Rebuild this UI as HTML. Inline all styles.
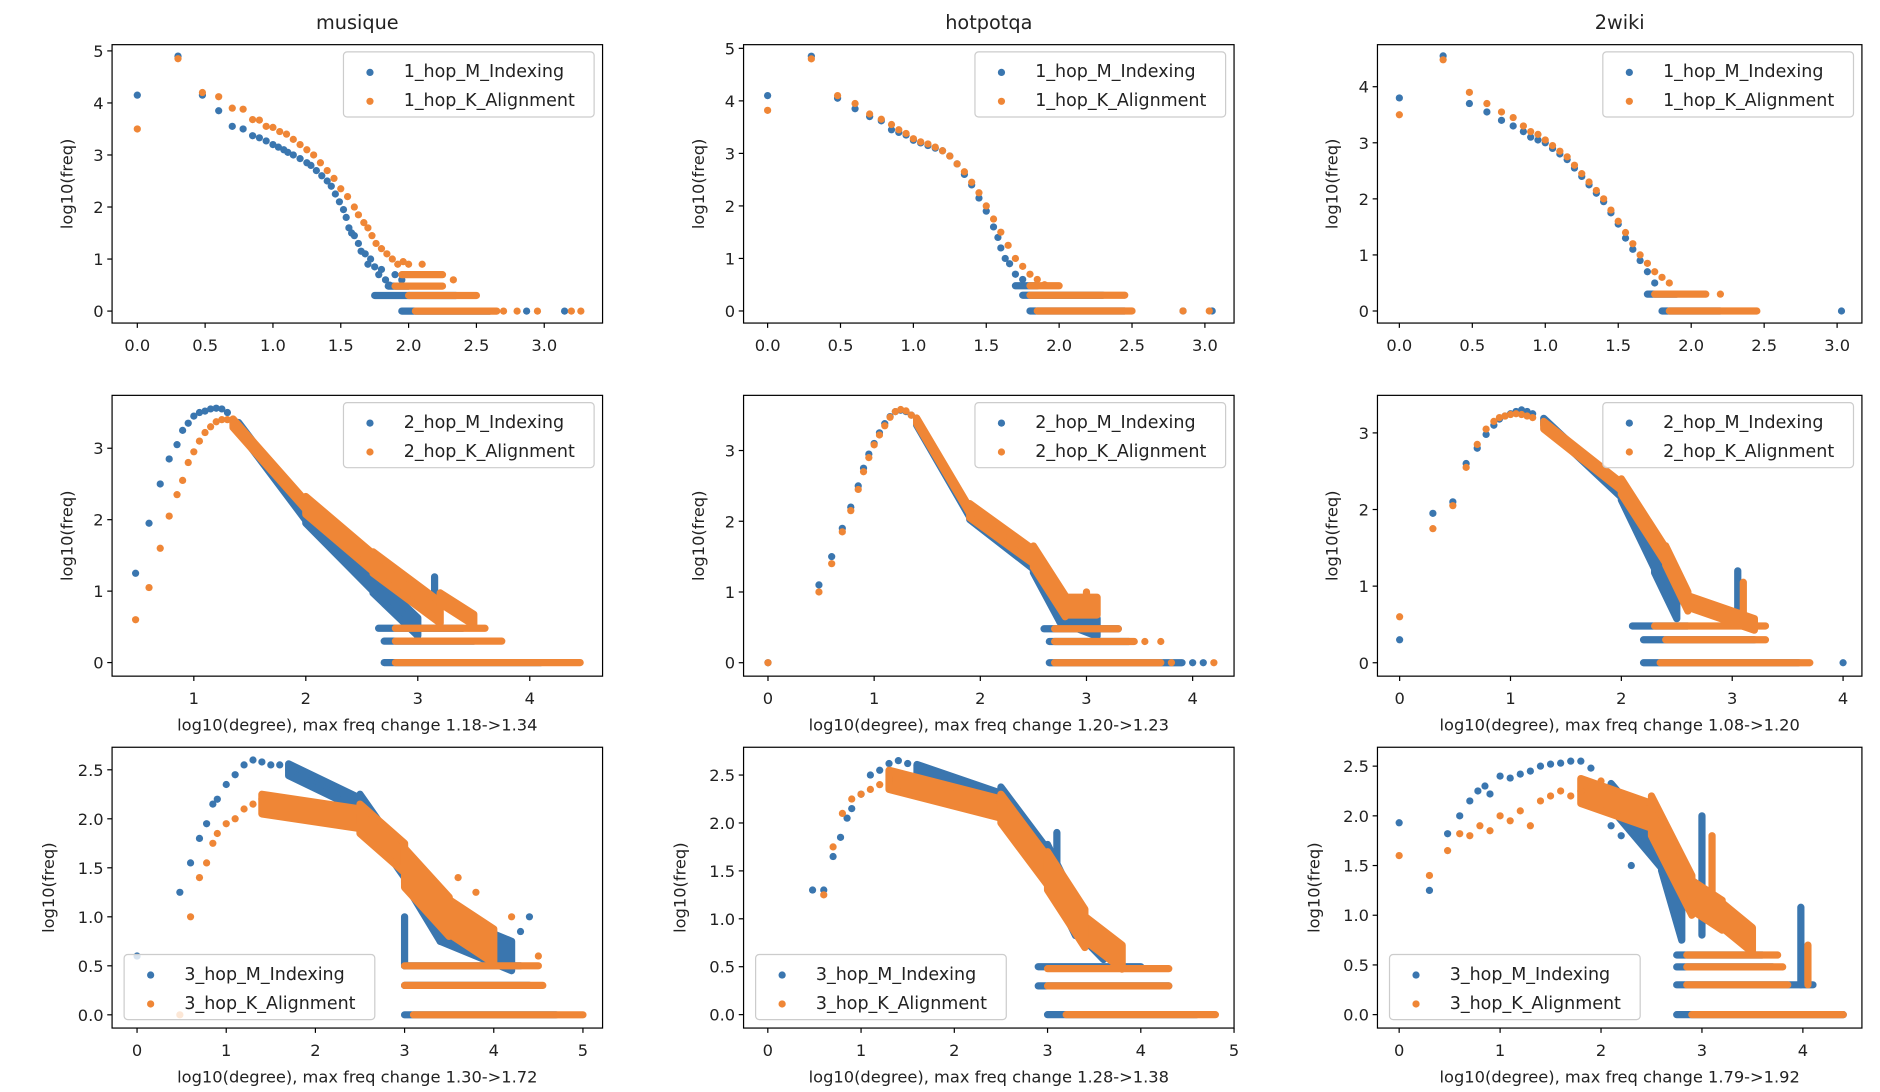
<!DOCTYPE html>
<html><head><meta charset="utf-8"><style>
html,body{margin:0;padding:0;background:#fff;}
svg{display:block;font-family:"DejaVu Sans","Liberation Sans",sans-serif;}
</style></head><body>
<svg id="fig" width="1880" height="1092" viewBox="0 0 1560 906" xmlns="http://www.w3.org/2000/svg"></svg>
<script>
// ---------- data ----------
const datasets = ["musique","hotpotqa","2wiki"];
const hops = ["1_hop","2_hop","3_hop"];
const xlabels = [null,
  ["log10(degree), max freq change 1.18->1.34","log10(degree), max freq change 1.20->1.23","log10(degree), max freq change 1.08->1.20"],
  ["log10(degree), max freq change 1.30->1.72","log10(degree), max freq change 1.28->1.38","log10(degree), max freq change 1.79->1.92"]];
const xticksRow1 = [0,0.5,1,1.5,2,2.5,3];
const xtickLabelsRow1 = ["0.0","0.5","1.0","1.5","2.0","2.5","3.0"];
const xticksRow2a = [1,2,3,4];
const xticksRow2 = [0,1,2,3,4];
const xticksRow3a = [0,1,2,3,4,5];
const xticksRow3c = [0,1,2,3,4];
const yticks5 = [0,1,2,3,4,5];
const yticks4 = [0,1,2,3,4];
const yticks3 = [0,1,2,3];
const yticksHalf = [0,0.5,1,1.5,2,2.5];
const ytickLabelsHalf = ["0.0","0.5","1.0","1.5","2.0","2.5"];

// Each series: points [x,y]; runs [x0,y0,x1,y1,ySpread] (dense clouds of dots)
const p11b = [[0,4.15],[0.3,4.9],[0.48,4.15],[0.6,3.85],[0.7,3.55],[0.78,3.5],[0.85,3.37],[0.9,3.33],[0.95,3.27],[1.0,3.2],[1.04,3.15],[1.08,3.1],[1.11,3.05],[1.15,3.0],[1.2,2.93],[1.25,2.85],[1.28,2.8],[1.32,2.7],[1.36,2.6],[1.4,2.5],[1.43,2.4],[1.46,2.25],[1.49,2.1],[1.52,1.95],[1.54,1.8],[1.56,1.6],[1.58,1.5],[1.6,1.45],[1.63,1.3],[1.65,1.15],[1.68,1.1],[1.7,0.9],[1.72,1.0],[1.75,0.85],[1.78,0.7],[1.8,0.8],[1.83,0.6],[1.86,0.5],[1.9,0.7],[1.95,0.6],[2.87,0],[3.15,0]];
const r11b = [[1.85,0.48,2.0,0.48,0],[1.75,0.3,2.35,0.3,0],[1.95,0,2.6,0,0]];
const p11o = [[0,3.5],[0.3,4.85],[0.48,4.2],[0.6,4.12],[0.7,3.9],[0.78,3.88],[0.85,3.68],[0.9,3.67],[0.95,3.55],[1.0,3.53],[1.05,3.45],[1.1,3.4],[1.15,3.3],[1.2,3.2],[1.25,3.1],[1.3,3.0],[1.35,2.85],[1.4,2.7],[1.45,2.55],[1.5,2.35],[1.55,2.2],[1.6,2.0],[1.63,1.85],[1.67,1.7],[1.7,1.6],[1.73,1.45],[1.76,1.3],[1.8,1.2],[1.84,1.1],[1.88,1.0],[1.92,0.9],[1.96,0.95],[2.0,0.9],[2.1,0.9],[2.33,0.6],[2.7,0],[2.8,0],[2.95,0],[3.2,0],[3.27,0]];
const r11o = [[1.95,0.7,2.25,0.7,0],[1.9,0.48,2.25,0.48,0],[2.0,0.3,2.5,0.3,0],[2.05,0,2.65,0,0]];

const p12b = [[0,4.1],[0.3,4.85],[0.48,4.05],[0.6,3.85],[0.7,3.7],[0.78,3.62],[0.85,3.45],[0.9,3.4],[0.95,3.35],[1.0,3.25],[1.05,3.2],[1.1,3.15],[1.15,3.1],[1.2,3.05],[1.25,2.95],[1.3,2.8],[1.35,2.6],[1.4,2.4],[1.45,2.15],[1.5,1.9],[1.55,1.6],[1.58,1.4],[1.6,1.2],[1.63,1.0],[1.66,0.9],[1.7,0.7],[1.75,0.6],[2.85,0],[3.05,0]];
const r12b = [[1.7,0.48,1.85,0.48,0],[1.75,0.3,2.3,0.3,0],[1.8,0,2.45,0,0]];
const p12o = [[0,3.82],[0.3,4.8],[0.48,4.1],[0.6,3.95],[0.7,3.75],[0.78,3.65],[0.85,3.55],[0.9,3.45],[0.95,3.38],[1.0,3.28],[1.05,3.22],[1.1,3.18],[1.15,3.12],[1.2,3.05],[1.25,2.95],[1.3,2.8],[1.35,2.65],[1.4,2.45],[1.45,2.25],[1.5,2.0],[1.55,1.75],[1.6,1.5],[1.65,1.25],[1.7,1.0],[1.75,0.85],[1.8,0.7],[1.85,0.6],[1.9,0.5],[2.85,0],[3.03,0]];
const r12o = [[1.8,0.48,2.0,0.48,0],[1.8,0.3,2.45,0.3,0],[1.85,0,2.5,0,0]];

const p13b = [[0,3.8],[0.3,4.55],[0.48,3.7],[0.6,3.55],[0.7,3.4],[0.78,3.3],[0.85,3.2],[0.9,3.1],[0.95,3.05],[1.0,3.0],[1.05,2.9],[1.1,2.8],[1.15,2.7],[1.2,2.55],[1.25,2.4],[1.3,2.25],[1.35,2.1],[1.4,1.95],[1.45,1.75],[1.5,1.55],[1.55,1.3],[1.6,1.1],[1.65,0.9],[1.7,0.7],[1.75,0.5],[3.03,0]];
const r13b = [[1.7,0.3,1.9,0.3,0],[1.8,0,2.2,0,0]];
const p13o = [[0,3.5],[0.3,4.48],[0.48,3.9],[0.6,3.7],[0.7,3.55],[0.78,3.45],[0.85,3.3],[0.9,3.2],[0.95,3.15],[1.0,3.05],[1.05,2.95],[1.1,2.85],[1.15,2.75],[1.2,2.6],[1.25,2.45],[1.3,2.3],[1.35,2.15],[1.4,2.0],[1.45,1.8],[1.5,1.6],[1.55,1.4],[1.6,1.2],[1.65,1.0],[1.7,0.85],[1.75,0.7],[1.8,0.6],[1.85,0.5],[2.2,0.3]];
const r13o = [[1.75,0.3,2.1,0.3,0],[1.85,0,2.45,0,0]];

const p21b = [[0.48,1.25],[0.6,1.95],[0.7,2.5],[0.78,2.85],[0.85,3.05],[0.9,3.25],[0.95,3.35],[1.0,3.45],[1.05,3.5],[1.1,3.52],[1.15,3.55],[1.2,3.56],[1.25,3.55],[1.3,3.5],[1.35,3.4],[1.4,3.3]];
const r21b = [[1.4,3.3,2.0,2.05,0.12],[2.0,2.05,2.6,1.1,0.2],[2.6,1.1,3.0,0.5,0.25],[2.65,0.48,3.4,0.48,0],[2.7,0.3,3.5,0.3,0],[2.7,0,4.1,0,0],[3.15,0.9,3.15,1.2,0]];
const p21o = [[0.48,0.6],[0.6,1.05],[0.7,1.6],[0.78,2.05],[0.85,2.35],[0.9,2.55],[0.95,2.8],[1.0,2.95],[1.05,3.1],[1.1,3.22],[1.15,3.3],[1.2,3.37],[1.25,3.4],[1.3,3.4],[1.35,3.35]];
const r21o = [[1.35,3.35,2.0,2.2,0.12],[2.0,2.2,2.6,1.4,0.25],[2.6,1.4,3.2,0.7,0.3],[3.2,0.9,3.5,0.6,0.15],[2.8,0.48,3.6,0.48,0],[2.8,0.3,3.75,0.3,0],[2.8,0,4.45,0,0]];

const p22b = [[0,0],[0.48,1.1],[0.6,1.5],[0.7,1.9],[0.78,2.2],[0.85,2.5],[0.9,2.75],[0.95,2.95],[1.0,3.1],[1.05,3.25],[1.1,3.38],[1.15,3.48],[1.2,3.55],[1.25,3.57],[1.3,3.55],[1.35,3.5],[1.4,3.4],[4.0,0],[4.1,0]];
const r22b = [[1.4,3.4,1.9,2.1,0.08],[1.9,2.1,2.5,1.4,0.15],[2.5,1.4,2.75,0.7,0.25],[2.75,0.7,3.1,0.5,0.25],[2.6,0.48,3.3,0.48,0],[2.65,0.3,3.4,0.3,0],[2.65,0,3.9,0,0]];
const p22o = [[0,0],[0.48,1.0],[0.6,1.4],[0.7,1.85],[0.78,2.15],[0.85,2.45],[0.9,2.7],[0.95,2.9],[1.0,3.08],[1.05,3.22],[1.1,3.35],[1.15,3.47],[1.2,3.55],[1.25,3.58],[1.3,3.56],[1.35,3.5],[1.4,3.42],[3.55,0.3],[3.7,0.3],[3.8,0],[4.2,0]];
const r22o = [[1.4,3.42,1.9,2.15,0.08],[1.9,2.15,2.5,1.5,0.2],[2.5,1.5,2.8,0.8,0.3],[2.8,0.8,3.1,0.8,0.25],[2.7,0.48,3.3,0.48,0],[2.7,0.3,3.45,0.3,0],[2.7,0,3.7,0,0],[3.0,0.8,3.0,1.0,0]];

const p23b = [[0,0.3],[0.3,1.95],[0.48,2.1],[0.6,2.6],[0.7,2.8],[0.78,2.98],[0.85,3.1],[0.9,3.18],[0.95,3.22],[1.0,3.25],[1.05,3.28],[1.1,3.3],[1.15,3.28],[1.2,3.25],[1.3,3.15],[4.0,0]];
const r23b = [[1.3,3.15,2.0,2.2,0.08],[2.0,2.2,2.3,1.3,0.15],[2.3,1.3,2.5,0.7,0.25],[2.1,0.48,2.6,0.48,0],[2.2,0.3,3.2,0.3,0],[2.2,0,3.6,0,0],[3.05,0.5,3.05,1.2,0]];
const p23o = [[0,0.6],[0.3,1.75],[0.48,2.05],[0.6,2.55],[0.7,2.85],[0.78,3.05],[0.85,3.15],[0.9,3.2],[0.95,3.22],[1.0,3.24],[1.05,3.25],[1.1,3.24],[1.15,3.22],[1.2,3.2],[1.3,3.1]];
const r23o = [[1.3,3.1,2.0,2.3,0.1],[2.0,2.3,2.4,1.4,0.2],[2.4,1.4,2.6,0.8,0.25],[2.6,0.8,3.2,0.5,0.15],[2.3,0.48,3.3,0.48,0],[2.4,0.3,3.3,0.3,0],[2.35,0,3.7,0,0],[3.1,0.5,3.1,1.05,0]];

const p31b = [[0,0.6],[0.48,1.25],[0.6,1.55],[0.7,1.8],[0.78,1.95],[0.85,2.15],[0.9,2.2],[1.0,2.35],[1.1,2.45],[1.2,2.55],[1.3,2.6],[1.4,2.58],[1.5,2.55],[1.6,2.55],[1.7,2.5],[4.3,0.85],[4.4,1.0]];
const r31b = [[1.7,2.5,2.5,2.15,0.12],[2.5,2.15,3.0,1.5,0.2],[3.0,1.5,3.4,0.9,0.3],[3.4,0.9,4.2,0.6,0.3],[3.0,0.5,3.0,1.0,0],[3.0,0.5,4.3,0.5,0],[3.0,0.3,4.4,0.3,0],[3.0,0,4.7,0,0]];
const p31o = [[0.48,0.0],[0.6,1.0],[0.7,1.4],[0.78,1.55],[0.85,1.75],[0.9,1.85],[1.0,1.95],[1.1,2.0],[1.2,2.1],[1.3,2.15],[1.4,2.2],[3.6,1.4],[3.8,1.25],[4.2,1.0],[4.5,0.6]];
const r31o = [[1.4,2.15,2.5,2.0,0.2],[2.5,2.0,3.0,1.6,0.3],[3.0,1.5,3.5,1.0,0.4],[3.5,1.0,4.0,0.7,0.35],[3.0,0.5,4.5,0.5,0],[3.0,0.3,4.55,0.3,0],[3.1,0,5.0,0,0]];

const p32b = [[0.48,1.3],[0.6,1.3],[0.7,1.65],[0.78,1.85],[0.85,2.05],[0.9,2.15],[1.0,2.3],[1.1,2.5],[1.2,2.55],[1.3,2.62],[1.4,2.65],[1.5,2.62],[1.6,2.6]];
const r32b = [[1.6,2.55,2.5,2.25,0.12],[2.5,2.25,3.0,1.6,0.25],[3.0,1.6,3.3,1.0,0.35],[3.3,1.0,3.6,0.7,0.25],[2.9,0.5,4.0,0.5,0],[2.9,0.3,4.3,0.3,0],[3.0,0,4.6,0,0],[3.1,1.5,3.1,1.9,0]];
const p32o = [[0.6,1.25],[0.7,1.75],[0.8,2.1],[0.9,2.25],[1.0,2.3],[1.1,2.35],[1.2,2.4],[1.3,2.45]];
const r32o = [[1.3,2.45,2.5,2.15,0.2],[2.5,2.15,3.0,1.5,0.3],[3.0,1.5,3.4,0.9,0.4],[3.4,0.9,3.8,0.6,0.25],[3.0,0.48,4.3,0.48,0],[3.0,0.3,4.3,0.3,0],[3.2,0,4.8,0,0]];

const p33b = [[0,1.93],[0.3,1.25],[0.48,1.82],[0.6,2.0],[0.7,2.15],[0.78,2.25],[0.85,2.3],[0.9,2.22],[1.0,2.4],[1.1,2.38],[1.2,2.42],[1.3,2.45],[1.4,2.5],[1.5,2.52],[1.6,2.53],[1.7,2.55],[1.8,2.55],[1.9,2.48],[2.0,2.1],[2.1,1.9],[2.2,1.8],[2.3,1.5]];
const r33b = [[2.1,2.2,2.6,1.6,0.25],[2.6,1.6,2.8,0.9,0.3],[3.0,0.8,3.0,2.0,0],[3.98,0.3,3.98,1.08,0],[2.75,0.6,3.6,0.6,0],[2.75,0.48,3.7,0.48,0],[2.75,0.3,4.1,0.3,0],[2.75,0,4.4,0,0]];
const p33o = [[0,1.6],[0.3,1.4],[0.48,1.65],[0.6,1.82],[0.7,1.8],[0.8,1.9],[0.9,1.85],[1.0,2.0],[1.1,1.95],[1.2,2.05],[1.3,1.9],[1.4,2.15],[1.5,2.2],[1.6,2.25],[1.7,2.2],[1.8,2.25],[1.9,2.3],[2.0,2.35]];
const r33o = [[1.8,2.25,2.5,2.0,0.25],[2.5,2.0,2.9,1.2,0.4],[2.9,1.2,3.2,1.0,0.3],[3.1,1.0,3.1,1.8,0],[3.2,1.0,3.5,0.75,0.25],[2.85,0.6,3.75,0.6,0],[2.85,0.48,3.8,0.48,0],[2.85,0.3,3.85,0.3,0],[2.9,0,4.4,0,0],[4.05,0.3,4.05,0.7,0]];

// ---------- layout ----------
const BLUE="#3a76af", ORANGE="#ef8636";
const colX=[[93,500],[617,1024],[1143,1545]];
const rowY=[[37,268],[328,561],[620,853]];
const panels=[
 [{xd:[-0.186,3.43],yd:[-0.23,5.12],xt:xticksRow1,xl:xtickLabelsRow1,yt:yticks5,yl:null,b:p11b,rb:r11b,o:p11o,ro:r11o},
  {xd:[-0.165,3.2],yd:[-0.23,5.07],xt:xticksRow1,xl:xtickLabelsRow1,yt:yticks5,yl:null,b:p12b,rb:r12b,o:p12o,ro:r12o},
  {xd:[-0.15,3.17],yd:[-0.215,4.75],xt:xticksRow1,xl:xtickLabelsRow1,yt:yticks4,yl:null,b:p13b,rb:r13b,o:p13o,ro:r13o}],
 [{xd:[0.27,4.65],yd:[-0.19,3.74],xt:xticksRow2a,xl:null,yt:yticks3,yl:null,b:p21b,rb:r21b,o:p21o,ro:r21o},
  {xd:[-0.23,4.39],yd:[-0.19,3.78],xt:xticksRow2,xl:null,yt:yticks3,yl:null,b:p22b,rb:r22b,o:p22o,ro:r22o},
  {xd:[-0.2,4.17],yd:[-0.175,3.49],xt:xticksRow2,xl:null,yt:yticks3,yl:null,b:p23b,rb:r23b,o:p23o,ro:r23o}],
 [{xd:[-0.28,5.22],yd:[-0.135,2.73],xt:xticksRow3a,xl:null,yt:yticksHalf,yl:ytickLabelsHalf,b:p31b,rb:r31b,o:p31o,ro:r31o},
  {xd:[-0.26,5.0],yd:[-0.14,2.79],xt:xticksRow3a,xl:null,yt:yticksHalf,yl:ytickLabelsHalf,b:p32b,rb:r32b,o:p32o,ro:r32o},
  {xd:[-0.215,4.585],yd:[-0.135,2.69],xt:xticksRow3c,xl:null,yt:yticksHalf,yl:ytickLabelsHalf,b:p33b,rb:r33b,o:p33o,ro:r33o}]
];
const NS="http://www.w3.org/2000/svg";
const svg=document.getElementById('fig');
function mk(tag,attrs,parent){const e=document.createElementNS(NS,tag);for(const k in attrs)e.setAttribute(k,attrs[k]);(parent||svg).appendChild(e);return e;}
function txt(s,attrs,parent){const e=mk('text',attrs,parent);e.textContent=s;return e;}
const R=3;
for(let r=0;r<3;r++)for(let c=0;c<3;c++){
  const P=panels[r][c];const [x0,x1]=colX[c];const [y0,y1]=rowY[r];
  const g=mk('g',{});
  
  
  const sx=v=>x0+(v-P.xd[0])/(P.xd[1]-P.xd[0])*(x1-x0);
  const sy=v=>y1-(v-P.yd[0])/(P.yd[1]-P.yd[0])*(y1-y0);
  const clipId='cl'+r+c;
  const cp=mk('clipPath',{id:clipId},g);mk('rect',{x:x0,y:y0,width:x1-x0,height:y1-y0},cp);
  const series=[[P.b,P.rb,BLUE,'indexing'],[P.o,P.ro,ORANGE,'alignment']];
  for(const [pts,runs,col,nm] of series){
    const sg=mk('g',{'clip-path':'url(#'+clipId+')'},g);
    
    
    for(const q of runs){
      const h=q[4]/2;
      const d=`M${sx(q[0])},${sy(q[1]+h)} L${sx(q[2])},${sy(q[3]+h)} L${sx(q[2])},${sy(q[3]-h)} L${sx(q[0])},${sy(q[1]-h)} Z`;
      const pth=mk('path',{d:d,fill:col,stroke:col,'stroke-width':2*R,'stroke-linejoin':'round','stroke-linecap':'round'},sg);
      
      
    }
    for(const p of pts){
      const ci=mk('circle',{cx:sx(p[0]),cy:sy(p[1]),r:R,fill:col},sg);
      
      
    }
  }
  const fr=mk('rect',{x:x0,y:y0,width:x1-x0,height:y1-y0,fill:'none',stroke:'#000','stroke-width':1},g);
  
  
  P.xt.forEach((v,i)=>{const X=sx(v);mk('line',{x1:X,x2:X,y1:y1,y2:y1+4,stroke:'#000'},g);
    const t=txt(P.xl?P.xl[i]:String(v),{x:X,y:y1+23,'font-size':13.5,'text-anchor':'middle',fill:'#222'},g);
    
    });
  P.yt.forEach((v,i)=>{const Y=sy(v);mk('line',{x1:x0-4,x2:x0,y1:Y,y2:Y,stroke:'#000'},g);
    const t=txt(P.yl?P.yl[i]:String(v),{x:x0-7,y:Y+5,'font-size':13.5,'text-anchor':'end',fill:'#222'},g);
    
    });
  const yx=x0-(r===2?48:33), yc=(y0+y1)/2;
  const yt=txt('log10(freq)',{x:yx,y:yc,'font-size':13.5,'text-anchor':'middle',transform:`rotate(-90 ${yx} ${yc})`,fill:'#222'},g);
  
  
  if(r===0){const t=txt(datasets[c],{x:(x0+x1)/2,y:24,'font-size':16,'text-anchor':'middle',fill:'#222'},g);
    
    }
  if(xlabels[r]){const t=txt(xlabels[r][c],{x:(x0+x1)/2,y:y1+45,'font-size':13.5,'text-anchor':'middle',fill:'#222'},g);
    
    }
  // legend
  let lx,ly,lw=208,lh=54;
  if(r<2){lx=x1-7-lw;ly=y0+6;}else{lx=x0+10;ly=y1-7-lh;}
  const lg=mk('g',{},g);
  
  
  mk('rect',{x:lx,y:ly,width:lw,height:lh,rx:3,fill:'#fff','fill-opacity':0.8,stroke:'#ccc'},lg);
  [[BLUE,hops[r]+'_M_Indexing'],[ORANGE,hops[r]+'_K_Alignment']].forEach((e,i)=>{
    const cy=ly+15+i*24;
    mk('circle',{cx:lx+22,cy:cy+2,r:R,fill:e[0]},lg);
    const t=txt(e[1],{x:lx+50,y:cy+6,'font-size':14.5,fill:'#222'},lg);
    
    
  });
}
</script>
</body></html>
